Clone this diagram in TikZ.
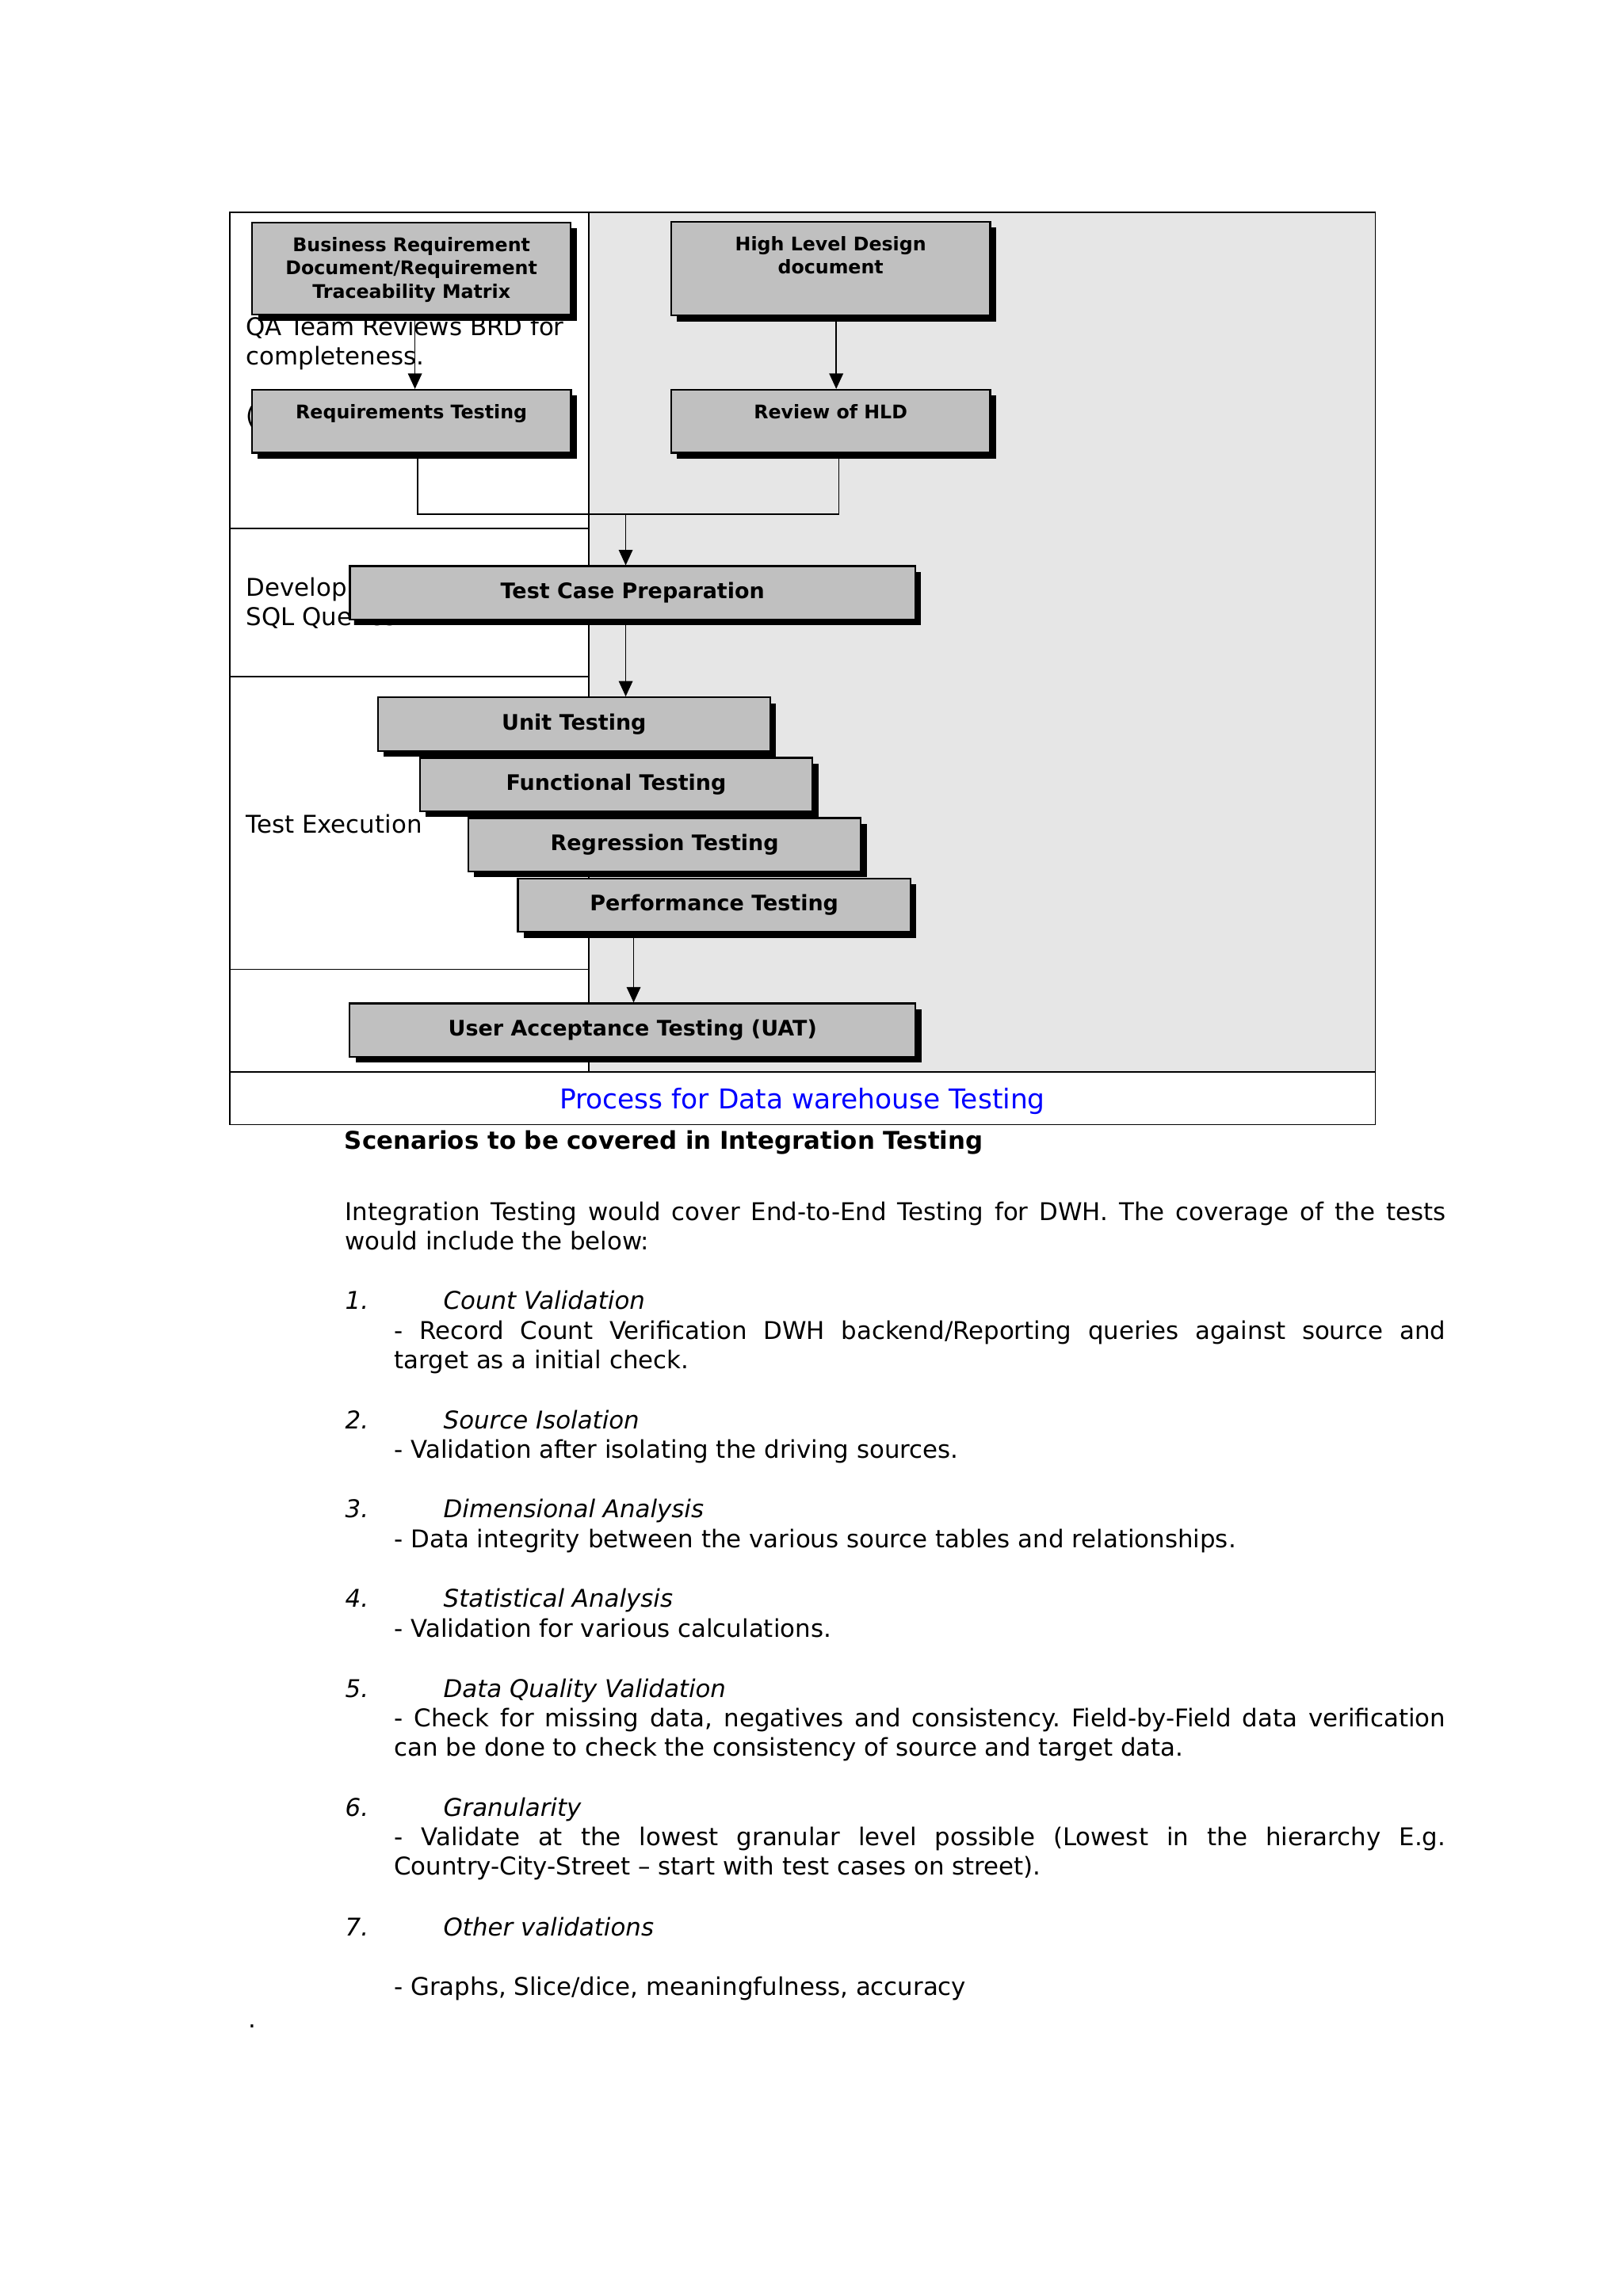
\documentclass[tikz,border=0pt]{standalone}
\usepackage{fontspec}
\setmainfont{DejaVu Sans}
\usetikzlibrary{arrows.meta,positioning,shadows}

\definecolor{boxgray}{RGB}{192,192,192}
\definecolor{lanegray}{RGB}{230,230,230}
\definecolor{capblue}{RGB}{0,0,255}

\tikzset{
  procbox/.style={draw, line width=0.7pt, fill=boxgray, inner sep=0pt,
    drop shadow={shadow xshift=0.08cm, shadow yshift=-0.08cm, fill=black, opacity=1},
    font=\bfseries\fontsize{8.3}{10}\selectfont},
  toptext/.style={anchor=north, inner sep=0pt, yshift=-5.75pt, align=center,
    font=\bfseries\fontsize{7.3}{9.1}\selectfont},
  bodytext/.style={anchor=base west, inner sep=0pt,
    font=\fontsize{9.5}{11.38}\selectfont\frenchspacing},
}

\begin{document}
\begin{tikzpicture}[x=0.02cm, y=-0.02cm]
  \useasboundingbox (0,0) rectangle (1108,1568);
  \fill[white] (0,0) rectangle (1108,1568);

  % frame of the process chart
  \fill[lanegray] (402,145) rectangle (939,732);
  \draw[line width=0.5pt] (157,145) rectangle (939,768);
  \draw[line width=0.5pt] (402,145) -- (402,732);
  \draw[line width=0.5pt] (157,361) -- (402,361);
  \draw[line width=0.5pt] (157,462) -- (402,462);
  \draw[line width=0.5pt] (157,662) -- (402,662);
  \draw[line width=0.8pt] (157,732) -- (939,732);

  % phase texts (the boxes lie over them); base = last line
  \begin{scope}[every node/.style={bodytext, align=left, font=\fontsize{9.5}{11.44}\selectfont}]
    \node (QA) at (167.7,249.3) {QA Team Reviews BRD for\\completeness.};
    \node (PAR) at (167.7,289.5) {(};
    \node (DEV) at (167.7,427.4) {Develop\\SQL Queries};
    \node (EXE) at (167.7,568.7) {Test Execution};
  \end{scope}

  % process boxes
  \node[procbox, minimum width=4.35cm, minimum height=1.26cm,
        label={[toptext]north:Business Requirement\\Document/Requirement\\Traceability Matrix}]
        (BRD) at (280.9,183.5) {};
  \node[procbox, minimum width=4.36cm, minimum height=1.28cm, right=1.346cm of BRD,
        label={[toptext]north:High Level Design\\document}] (HLD) {};
  \node[procbox, minimum width=4.36cm, minimum height=0.86cm, below=1cm of BRD,
        label={[toptext]north:Requirements Testing}] (RT) {};
  \node[procbox, minimum width=4.36cm, minimum height=0.86cm, below=0.99cm of HLD,
        label={[toptext]north:Review of HLD}] (RH) {};
  \node[procbox, minimum width=7.72cm, minimum height=0.73cm] (TCP) at (431.9,404.9) {Test Case Preparation};
  \node[procbox, minimum width=5.36cm, minimum height=0.73cm] (UT) at (391.9,494.5) {Unit Testing};
  \node[procbox, minimum width=5.36cm, minimum height=0.73cm,
        below right=0.07cm and 0.576cm of UT.south west] (FT) {Functional Testing};
  \node[procbox, minimum width=5.36cm, minimum height=0.73cm,
        below right=0.07cm and 0.662cm of FT.south west] (RG) {Regression Testing};
  \node[procbox, minimum width=5.36cm, minimum height=0.73cm,
        below right=0.07cm and 0.676cm of RG.south west] (PT) {Performance Testing};
  \node[procbox, minimum width=7.73cm, minimum height=0.73cm] (UAT) at (431.9,703.5) {User Acceptance Testing (UAT)};

  % connectors
  \coordinate (M) at (427.2,351.2);
  \draw[line width=0.5pt] ([xshift=0.082cm]RT.south) |- (M) -| ([xshift=0.11cm]RH.south);
  \begin{scope}[every edge/.style={draw=black, line width=0.5pt, -{Triangle[length=6pt,width=5.4pt]}}]
    \path ([xshift=0.048cm]BRD.south) edge ([xshift=0.048cm]RT.north);
    \path ([xshift=0.076cm]HLD.south) edge ([xshift=0.076cm]RH.north);
    \path (M) edge (M |- TCP.north);
    \path (M |- TCP.south) edge (M |- UT.north);
    \path ([xshift=0.014cm]UAT.north |- PT.south) edge ([xshift=0.014cm]UAT.north);
  \end{scope}

  \node[anchor=base, inner sep=0pt, text=capblue, font=\fontsize{10.6}{12}\selectfont]
        (CAP) at (547.8,757.4) {Process for Data warehouse Testing};

  % text below the chart
  \begin{scope}[every node/.style={bodytext}]
    \node[font=\bfseries\fontsize{9.5}{11.38}\selectfont] (HEAD) at (235,784.6)
      {Scenarios to be covered in Integration Testing};
    \node[text width=15.03cm, align=justify] (INTRO) at (235.4,833.5)
      {Integration Testing would cover End-to-End Testing for DWH. The coverage of the tests\linebreak would include the below:};

    \node (N1) at (235.4,894.1) {\makebox[1.342cm][l]{\itshape 1.}\itshape Count Validation};
    \node[text width=14.36cm, align=justify] (D1) at (268.8,914.7)
      {- Record Count Verification DWH backend/Reporting queries against source and\linebreak target as a initial check.};

    \node (N2) at (235.4,975.6) {\makebox[1.342cm][l]{\itshape 2.}\itshape Source Isolation};
    \node (D2) at (268.8,995.8) {- Validation after isolating the driving sources.};

    \node (N3) at (235.4,1036.4) {\makebox[1.342cm][l]{\itshape 3.}\itshape Dimensional Analysis};
    \node (D3) at (268.8,1056.8) {- Data integrity between the various source tables and relationships.};

    \node (N4) at (235.4,1097.5) {\makebox[1.342cm][l]{\itshape 4.}\itshape Statistical Analysis};
    \node (D4) at (268.8,1118) {- Validation for various calculations.};

    \node (N5) at (235.4,1159.2) {\makebox[1.342cm][l]{\itshape 5.}\itshape Data Quality Validation};
    \node[text width=14.36cm, align=justify] (D5) at (268.8,1179.4)
      {- Check for missing data, negatives and consistency. Field-by-Field data verification\linebreak can be done to check the consistency of source and target data.};

    \node (N6) at (235.4,1240.6) {\makebox[1.342cm][l]{\itshape 6.}\itshape Granularity};
    \node[text width=14.36cm, align=justify] (D6) at (268.8,1260.6)
      {- Validate at the lowest granular level possible (Lowest in the hierarchy E.g.\linebreak Country-City-Street -- start with test cases on street).};

    \node (N7) at (235.4,1322) {\makebox[1.342cm][l]{\itshape 7.}\itshape Other validations};
    \node (D7) at (268.8,1362.5) {- Graphs, Slice/dice, meaningfulness, accuracy};

    \node (DOT) at (169,1385) {.};
  \end{scope}
\end{tikzpicture}
\end{document}
